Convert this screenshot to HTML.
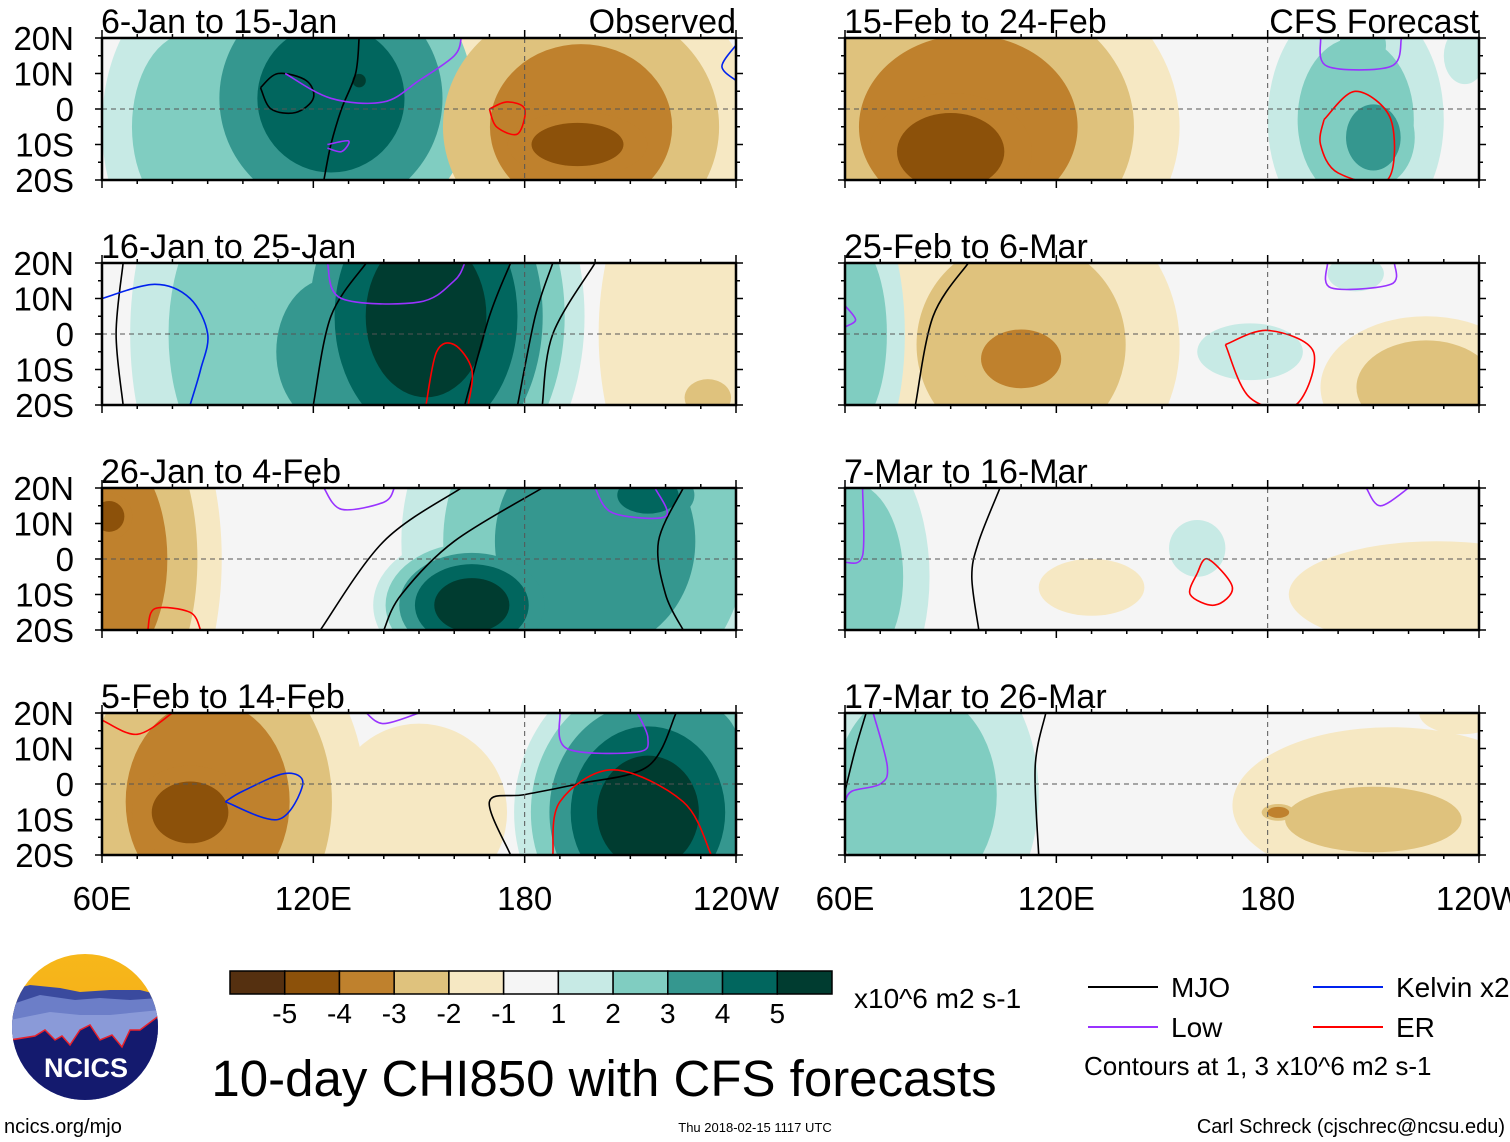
<!DOCTYPE html>
<html><head><meta charset="utf-8">
<style>
html,body{margin:0;padding:0;background:#fff;}
svg{display:block;font-family:"Liberation Sans",sans-serif;}
</style></head>
<body>
<svg id="chart" width="1510" height="1142" viewBox="0 0 1510 1142" xmlns="http://www.w3.org/2000/svg">
<defs>
<linearGradient id="sky" x1="0" y1="0" x2="0" y2="1"><stop offset="0" stop-color="#f7b81a"/><stop offset="1" stop-color="#f3a41c"/></linearGradient>
<clipPath id="logoclip"><circle cx="85" cy="1027" r="73"/></clipPath>
</defs>
<g id="panels"></g>
<g id="legend"></g>
</svg>
<script>
// ---------------- data ----------------
const levelValues = [-5,-4,-3,-2,-1,0,1,2,3,4,5];
const levelColors = ["#553010","#8c510a","#bf812d","#dfc27d","#f6e8c3","#f5f5f5","#c7eae5","#80cdc1","#35978f","#01665e","#003c30"];
const colorbarLabels = ["-5","-4","-3","-2","-1","1","2","3","4","5"];
const latTicks = ["20N","10N","0","10S","20S"];
const latValues = [20,10,0,-10,-20];
const lonTickLabels = ["60E","120E","180","120W"];
const lonTickValues = [60,120,180,240];
const panelTitles = ["6-Jan to 15-Jan","16-Jan to 25-Jan","26-Jan to 4-Feb","5-Feb to 14-Feb","15-Feb to 24-Feb","25-Feb to 6-Mar","7-Mar to 16-Mar","17-Mar to 26-Mar"];
// blobs: [lon, lat, radiusLon(deg), radiusLat(deg), peak value]
const panelBlobs = [
 [[125,3,48,48,4],[85,-5,25,40,2],[133,8,5,5,5],[196,-5,50,45,-3],[195,-10,30,14,-4]],
 [[152,5,45,60,5],[100,0,32,60,2],[125,-5,30,40,3],[236,0,35,60,-1],[232,-18,10,8,-2]],
 [[62,0,32,60,-3],[62,12,10,10,-4],[200,5,55,60,3],[165,-13,28,20,5],[215,18,20,12,4]],
 [[90,-5,45,55,-3],[85,-8,25,20,-4],[150,-8,25,25,-1],[155,7,7,5,-1],[215,-8,38,42,5],[228,10,25,25,3]],
 [[95,-5,60,50,-3],[90,-12,35,25,-4],[205,-3,25,35,2],[210,-8,15,18,3],[207,18,10,10,2],[236,15,6,8,1]],
 [[110,-3,45,45,-2],[110,-7,22,16,-3],[62,0,15,40,2],[175,-5,15,8,1],[225,-15,30,20,-2],[205,17,8,5,1]],
 [[62,-5,22,40,2],[130,-8,15,8,-1],[160,3,8,8,1],[228,-10,42,15,-1]],
 [[80,-3,35,45,2],[215,-6,45,22,-1],[210,-10,38,14,-2],[183,-8,6,3,-3],[235,20,12,6,-1]]
];
// contour lines as lon/lat point lists: [type, [lon,lat,...]]
const panelContours = [
 [["mjo",[105,6,108,0,115,-1,120,3,118,8,110,10,105,6]],["mjo",[133,20,132,10,128,0,125,-10,123,-20]],["low",[112,10,125,3,140,2,150,8,160,15,162,20]],["low",[124,-10,130,-9,128,-12,124,-11]],["er",[170,0,175,2,180,0,178,-7,172,-5,170,0]],["kel",[240,18,236,12,240,8]]],
 [["mjo",[66,20,64,0,66,-20]],["mjo",[135,20,125,5,120,-20]],["mjo",[176,20,170,5,163,-20]],["mjo",[188,20,183,5,178,-20]],["mjo",[200,20,188,0,185,-20]],["kel",[60,10,75,14,85,10,90,0,88,-10,85,-20]],["low",[124,20,128,10,150,9,160,15,163,20]],["er",[152,-20,155,-5,160,-3,165,-10,164,-20]]],
 [["mjo",[162,20,140,5,122,-20]],["mjo",[185,20,160,5,145,-10,140,-20]],["mjo",[225,20,218,5,220,-10,225,-20]],["low",[123,20,128,14,140,16,143,20]],["low",[200,20,205,13,220,12,217,20]],["er",[73,-20,75,-14,85,-15,88,-20]]],
 [["mjo",[223,20,215,5,195,0,180,-3,170,-5,176,-20]],["kel",[95,-5,110,-10,117,0,112,3,100,-2,95,-5]],["low",[135,20,140,17,150,20]],["low",[190,20,192,10,212,9,215,13,212,20]],["er",[60,18,70,14,80,20]],["er",[188,-20,190,-5,205,4,225,-5,233,-20]]],
 [["low",[195,20,197,12,215,12,218,20]],["er",[196,-3,205,5,215,-3,214,-20,200,-18,195,-10,196,-3]]],
 [["mjo",[95,20,85,5,80,-20]],["low",[60,8,63,4,60,2]],["low",[197,20,198,13,215,14,216,20]],["er",[168,-3,180,1,193,-5,188,-20,175,-18,168,-3]]],
 [["mjo",[104,20,98,5,96,-5,98,-20]],["low",[60,-1,65,1,65,20]],["low",[208,20,212,15,220,20]],["er",[160,-4,163,0,170,-8,165,-13,158,-10,160,-4]]],
 [["mjo",[117,20,114,5,115,-20]],["low",[68,20,72,5,70,0,62,-2,60,-5]],["mjo",[60,-2,63,10,66,20]]]
];
// ---------------- geometry ----------------
const NS="http://www.w3.org/2000/svg";
const PW=634, PH=142;
const panelX=[102,102,102,102,845,845,845,845];
const panelY=[38,263,488,713,38,263,488,713];
const lineColor={mjo:"#000",low:"#9933ff",kel:"#0022ee",er:"#ff0000"};
function mk(tag,attrs,parent){const e=document.createElementNS(NS,tag);for(const k in attrs)e.setAttribute(k,attrs[k]);parent.appendChild(e);return e;}
function colorFor(v){return levelColors[levelValues.indexOf(v)];}
function smooth(pts){
  let d='M'+pts[0][0].toFixed(1)+','+pts[0][1].toFixed(1);
  for(let i=0;i<pts.length-1;i++){
    const p0=pts[Math.max(i-1,0)],p1=pts[i],p2=pts[i+1],p3=pts[Math.min(i+2,pts.length-1)];
    const c1=[p1[0]+(p2[0]-p0[0])/6,p1[1]+(p2[1]-p0[1])/6],c2=[p2[0]-(p3[0]-p1[0])/6,p2[1]-(p3[1]-p1[1])/6];
    d+=' C'+c1.map(v=>v.toFixed(1)).join(',')+' '+c2.map(v=>v.toFixed(1)).join(',')+' '+p2.map(v=>v.toFixed(1)).join(',');
  }
  return d;
}
const root=document.getElementById('panels');
for(let p=0;p<8;p++){
  const x0=panelX[p], y0=panelY[p];
  const xs=lon=>x0+(lon-60)/180*PW;
  const ys=lat=>y0+(20-lat)/40*PH;
  const g=mk('g',{},root);
  
  
  const cp=mk('clipPath',{id:'clip'+p},g);
  mk('rect',{x:x0,y:y0,width:PW,height:PH},cp);
  const field=mk('g',{'clip-path':'url(#clip'+p+')'},g);
  
  
  mk('rect',{x:x0,y:y0,width:PW,height:PH,fill:"#f5f5f5"},field);
  const blobs=panelBlobs[p];
  for(let L=1;L<=5;L++){
    blobs.forEach(b=>{
      const n=Math.abs(b[4]); if(L>n) return;
      const s=Math.pow((n-L+1)/n,0.6);
      const v=b[4]>0?L:-L;
      const el=mk('ellipse',{cx:xs(b[0]),cy:ys(b[1]),rx:b[2]*s/180*PW,ry:b[3]*s/40*PH,fill:colorFor(v)},field);
      
      
    });
  }
  panelContours[p].forEach(c=>{
    const pts=[];for(let i=0;i<c[1].length;i+=2)pts.push([xs(c[1][i]),ys(c[1][i+1])]);
    const pl=mk('path',{d:smooth(pts),fill:'none',stroke:lineColor[c[0]],'stroke-width':1.6},field);
    
    
  });
  mk('line',{x1:x0,y1:ys(0),x2:x0+PW,y2:ys(0),stroke:'#555','stroke-dasharray':'5,4','stroke-width':1},g);
  mk('line',{x1:xs(180),y1:y0,x2:xs(180),y2:y0+PH,stroke:'#555','stroke-dasharray':'5,4','stroke-width':1},g);
  const fr=mk('rect',{x:x0,y:y0,width:PW,height:PH,fill:'none',stroke:'#000','stroke-width':2.5},g);
  
  
  for(let lon=60;lon<=240;lon+=10){
    const big=(lon%60===0), len=big?8:4, x=xs(lon);
    mk('line',{x1:x,y1:y0,x2:x,y2:y0-len,stroke:'#000','stroke-width':1.5},g);
    mk('line',{x1:x,y1:y0+PH,x2:x,y2:y0+PH+len,stroke:'#000','stroke-width':1.5},g);
  }
  for(let lat=-20;lat<=20;lat+=5){
    const big=(lat%10===0), len=big?7:4, y=ys(lat);
    mk('line',{x1:x0,y1:y,x2:x0-len,y2:y,stroke:'#000','stroke-width':1.5},g);
    mk('line',{x1:x0+PW,y1:y,x2:x0+PW+len,y2:y,stroke:'#000','stroke-width':1.5},g);
  }
  if(p<4){
    latValues.forEach((lat,i)=>{
      const t=mk('text',{x:x0-28,y:ys(lat)+12,'text-anchor':'end','font-size':33},g);
      t.textContent=latTicks[i];
      
      
    });
  }
  const tt=mk('text',{x:x0-1,y:y0-5,'font-size':34},g);
  tt.textContent=panelTitles[p];
  
  
  if(p===0||p===4){
    const lab=mk('text',{x:x0+PW,y:y0-5,'font-size':34,'text-anchor':'end'},g);
    lab.textContent=p===0?"Observed":"CFS Forecast";
    
    
  }
  if(p===3||p===7){
    lonTickValues.forEach((lon,i)=>{
      const t=mk('text',{x:xs(lon),y:910,'text-anchor':'middle','font-size':33},g);
      t.textContent=lonTickLabels[i];
      
      
    });
  }
}
// ---------------- colorbar & legend ----------------
const lg=document.getElementById('legend');
const cbX=230, cbY=971, cbW=602/11, cbH=23;
levelColors.forEach((c,i)=>{
  const r=mk('rect',{x:cbX+i*cbW,y:cbY,width:cbW,height:cbH,fill:c,stroke:'#000','stroke-width':1.5},lg);
  
  
});
colorbarLabels.forEach((l,i)=>{
  const t=mk('text',{x:cbX+(i+1)*cbW,y:1023,'text-anchor':'middle','font-size':28},lg);
  t.textContent=l;
  
  
});
function txt(x,y,s,size,anchor,name){const t=mk('text',{x:x,y:y,'font-size':size,'text-anchor':anchor||'start'},lg);t.textContent=s;return t;}
txt(854,1008,"x10^6 m2 s-1",28,'start','colorbar-units');
txt(604,1096,"10-day CHI850 with CFS forecasts",51,'middle','chart-title');
const legendItems=[["MJO","#000",1088,987],["Low","#9933ff",1088,1027],["Kelvin x2","#0022ee",1313,987],["ER","#ff0000",1313,1027]];
legendItems.forEach(it=>{
  const l=mk('line',{x1:it[2],y1:it[3],x2:it[2]+70,y2:it[3],stroke:it[1],'stroke-width':2},lg);
  
  
  txt(it[2]+83,it[3]+10,it[0],28,'start','legend-entry');
});
txt(1084,1075,"Contours at 1, 3 x10^6 m2 s-1",26,'start','contour-note');
txt(4,1133,"ncics.org/mjo",20,'start','site-url');
txt(755,1132,"Thu 2018-02-15 1117 UTC",13,'middle','timestamp');
txt(1505,1133,"Carl Schreck (cjschrec@ncsu.edu)",20,'end','author-credit');
const logo=mk('g',{'clip-path':'url(#logoclip)'},lg);


mk('rect',{x:10,y:950,width:150,height:160,fill:'url(#sky)'},logo);
mk('path',{d:'M10 990 L30 985 L60 988 L80 992 L110 990 L140 990 L160 995 L160 1110 L10 1110Z',fill:'#3a4a9e'},logo);
mk('path',{d:'M10 1005 L40 995 L75 1000 L100 998 L130 1000 L160 998 L160 1110 L10 1110Z',fill:'#6c7ec8'},logo);
mk('path',{d:'M10 1020 L50 1012 L80 1015 L110 1015 L160 1010 L160 1110 L10 1110Z',fill:'#8a9ad8'},logo);
mk('path',{d:'M10 1040 L35 1036 L45 1030 L55 1040 L62 1036 L70 1045 L80 1030 L90 1025 L100 1040 L112 1035 L122 1047 L130 1030 L140 1030 L160 1015 L160 1110 L10 1110Z',fill:'#141a6e',stroke:'#e8202a','stroke-width':1.5},logo);
const lt=mk('text',{x:86,y:1077,'text-anchor':'middle','font-size':27,'font-weight':'bold',fill:'#fff'},lg);
lt.textContent="NCICS";


</script>
</body></html>
